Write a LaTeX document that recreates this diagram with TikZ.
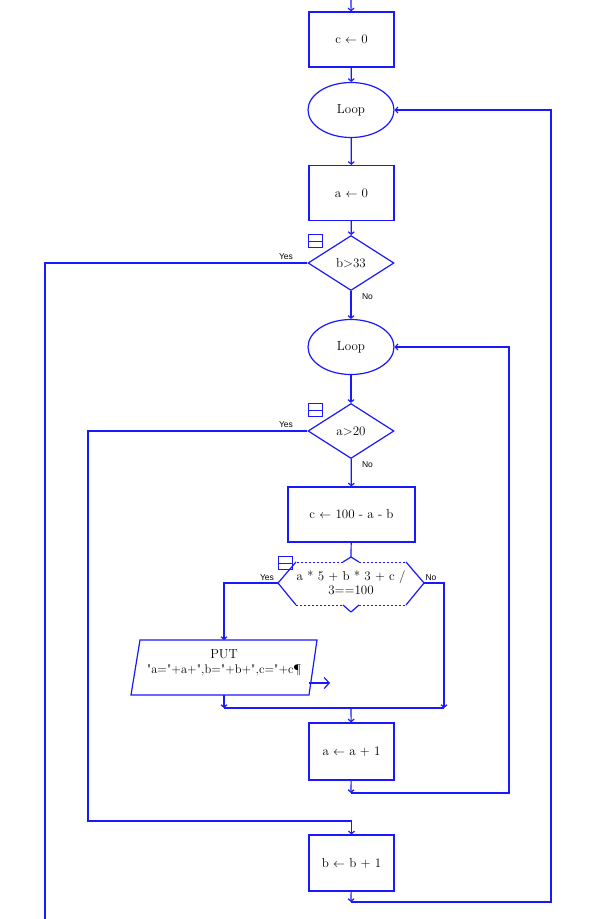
\documentclass[tikz,border=0pt]{standalone}
\usepackage{fontspec}
\setsansfont{Liberation Sans}
\newfontfamily\lmq{Latin Modern Roman}[Ligatures=TeXOff]
\usetikzlibrary{shapes.geometric,arrows.meta}
\definecolor{fc}{RGB}{25,25,255}
\begin{document}
\begin{tikzpicture}[x=1pt,y=-1pt,
  line/.style={draw=fc,line width=1.2pt},
  flow/.style={line,-{Straight Barb[length=2.5pt,width=6pt]}},
  txt/.style={font=\fontsize{13}{14.5}\selectfont,text=black},
  proc/.style={draw=fc,line width=1.2pt,minimum width=85pt,minimum height=55pt,inner sep=0pt,txt},
  loopn/.style={ellipse,draw=fc,line width=1.2pt,minimum width=86pt,minimum height=55pt,inner sep=0pt,txt},
  dec/.style={diamond,draw=fc,line width=1.2pt,minimum width=86pt,minimum height=55pt,inner sep=0pt,txt},
  lbl/.style={font=\sffamily\fontsize{8.5}{10}\selectfont,text=black,inner sep=0pt},
  icon/.style={draw=fc,line width=1pt,minimum width=14pt,minimum height=13pt,inner sep=0pt,
    path picture={\draw[fc,line width=1pt] (path picture bounding box.west) -- (path picture bounding box.east);}},
  hexs/.style={draw=fc,line width=1pt,dash pattern=on 2pt off 2pt}
]
\fill[white] (0,0) rectangle (594,919);
\useasboundingbox (0,0) rectangle (594,919);

% nodes
\coordinate (top) at (351,0);
\node[proc] (c0) at (351.5,39.5) {c $\leftarrow$ 0};
\node[loopn] (loop1) at (351,110) {Loop};
\node[proc] (a0) at (351.5,193) {a $\leftarrow$ 0};
\node[dec] (d1) at (351,263) {b\textgreater33};
\node[icon] (ic1) at (315.5,241) {};
\node[loopn] (loop2) at (351,347) {Loop};
\node[dec] (d2) at (351,431) {a\textgreater20};
\node[icon] (ic2) at (315.5,410) {};
\node[proc,minimum width=127pt] (c100) at (351.5,514.5) {c $\leftarrow$ 100 - a - b};

% hexagon decision
\node[txt,align=center,inner sep=0pt] (hex) at (351,583) {a * 5 + b * 3 + c /\\3==100};
\coordinate (hexN) at (351,557);
\coordinate (hexW) at (278,583);
\coordinate (hexE) at (424,583);
\draw[hexs] (343,562) -- (296,562);
\draw[hexs] (359,562) -- (406,562);
\draw[hexs] (296,605) -- (343,605);
\draw[hexs] (359,605) -- (406,605);
\draw[line,line join=round] (296,562) -- (hexW) -- (296,605);
\draw[line,line join=round] (406,562) -- (hexE) -- (406,605);
\draw[line,line join=round] (343,562) -- (hexN) -- (359,562);
\draw[line,line join=round] (343,605) -- (351,612) -- (359,605);
\node[icon] (ic3) at (285.5,563) {};

% parallelogram output
\coordinate (pTL) at (140,640);
\coordinate (pTR) at (317,640);
\coordinate (pBR) at (309,695);
\coordinate (pBL) at (131,695);
\coordinate (pTop) at (224,640);
\coordinate (pBot) at (224,695);
\draw[line] (pTL) -- (pTR) -- (pBR) -- (pBL) -- cycle;
\node[txt,align=center,inner sep=0pt] (put) at (224,663) {PUT\\{\fontsize{12.5}{14}\selectfont\lmq "a="+a+",b="+b+",c="+c\P}};
\coordinate (outA) at (309,683);
\coordinate (outB) at (330,683);
\draw[line,-{Straight Barb[length=5pt,width=11pt]}] (outA) -- (outB);

\node[proc,minimum height=57pt] (a1) at (351.5,751.5) {a $\leftarrow$ a + 1};
\node[proc,minimum height=56pt] (b1) at (351.5,863) {b $\leftarrow$ b + 1};

% join points
\coordinate (j1) at (351,708);
\coordinate (j1l) at (224,708);
\coordinate (j1r) at (444,708);
\coordinate (j2) at (351,793);
\coordinate (r2) at (509,793);
\coordinate (j3) at (351,902);
\coordinate (r3) at (551,902);
\coordinate (exit1) at (45,919);
\coordinate (c88) at (88,821);

% connectors
\draw[flow] (top) -- (c0);
\draw[flow] (c0) -- (loop1);
\draw[flow] (loop1) -- (a0);
\draw[flow] (a0) -- (d1);
\draw[line] (d1.west) -| (exit1);
\draw[flow] (d1) -- (loop2);
\draw[flow] (loop2) -- (d2);
\draw[flow] (d2.west) -| (c88) -| (b1.north);
\draw[flow] (d2) -- (c100);
\draw[line] (c100) -- (hexN);
\draw[flow] (hexW) -| (pTop);
\draw[flow] (pBot) -- (j1l);
\draw[flow] (hexE) -| (j1r);
\draw[line] (j1l) -- (j1r);
\draw[flow] (j1) -- (a1);
\draw[flow] (a1) -- (j2);
\draw[flow] (j2) -- (r2) |- (loop2.east);
\draw[flow] (b1) -- (j3);
\draw[flow] (j3) -- (r3) |- (loop1.east);

% labels
\node[lbl] (y1) at (286,256.5) {Yes};
\node[lbl] (n1) at (367.5,296.5) {No};
\node[lbl] (y2) at (286,424.5) {Yes};
\node[lbl] (n2) at (367.5,464.5) {No};
\node[lbl] (y3) at (267,577.5) {Yes};
\node[lbl] (n3) at (431,577.5) {No};
\end{tikzpicture}
\end{document}
